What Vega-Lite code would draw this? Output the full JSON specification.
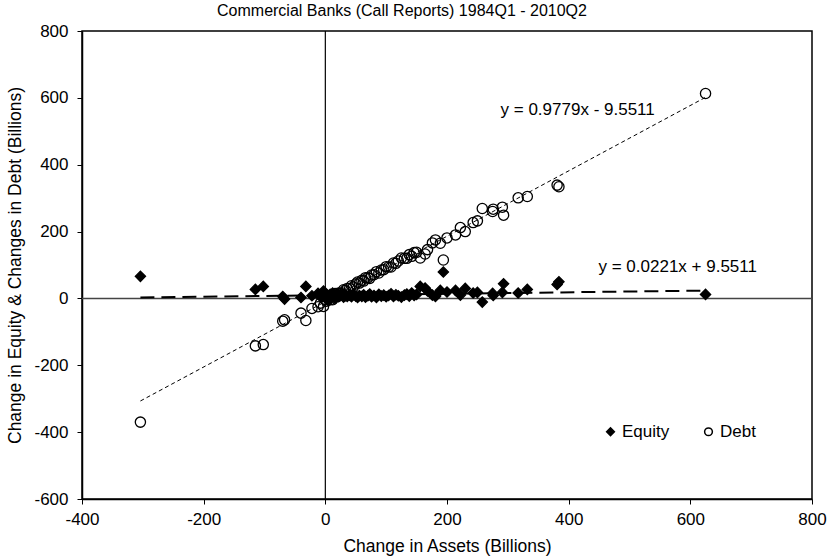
{
  "$schema": "https://vega.github.io/schema/vega-lite/v6.json",
  "width": 730,
  "height": 468,
  "autosize": {"type": "none"},
  "padding": {"left": 82, "top": 31, "right": 20, "bottom": 60},
  "background": "white",
  "title": {"text": "Commercial Banks (Call Reports) 1984Q1 - 2010Q2", "fontSize": 16, "fontWeight": "normal", "font": "Liberation Sans", "color": "black", "anchor": "middle", "dx": -45, "offset": 3},
  "config": {
    "font": "Liberation Sans",
    "view": {"stroke": "black", "strokeWidth": 1.5},
    "axis": {"grid": false, "domainColor": "black", "domainWidth": 1.5, "tickColor": "black", "tickSize": 5, "tickWidth": 1, "labelFontSize": 17, "labelColor": "black", "titleFontSize": 17.5, "titleFontWeight": "normal", "titleColor": "black", "labelFont": "Liberation Sans", "titleFont": "Liberation Sans", "labelFlush": false, "labelOverlap": false},
    "axisX": {"labelPadding": 7, "titlePadding": 10},
    "axisY": {"labelPadding": 9, "titlePadding": 9},
    "legend": {"labelFontSize": 17, "labelFont": "Liberation Sans", "labelColor": "black", "symbolSize": 60, "symbolStrokeColor": "black", "symbolStrokeWidth": 1.5, "orient": "none", "direction": "horizontal", "legendX": 520, "legendY": 392, "columnPadding": 30, "labelOffset": 3}
  },
  "datasets": {
    "banks": [
      {"a": -304, "Equity": 66, "Debt": -370},
      {"a": -115, "Equity": 27, "Debt": -142},
      {"a": -102, "Equity": 36, "Debt": -138},
      {"a": -70, "Equity": 6, "Debt": -68},
      {"a": -67, "Equity": -2, "Debt": -64},
      {"a": -40, "Equity": 3, "Debt": -44},
      {"a": -32, "Equity": 36, "Debt": -66},
      {"a": -22, "Equity": 8, "Debt": -30},
      {"a": -12, "Equity": 15, "Debt": -25},
      {"a": -8, "Equity": 5, "Debt": -14},
      {"a": -3, "Equity": 22, "Debt": -24},
      {"a": 0, "Equity": 2, "Debt": -3},
      {"a": 2, "Equity": 10, "Debt": -8},
      {"a": 4, "Equity": -5, "Debt": 9},
      {"a": 5, "Equity": 6, "Debt": -2},
      {"a": 8, "Equity": 12, "Debt": -4},
      {"a": 10, "Equity": 3, "Debt": 6},
      {"a": 12, "Equity": 16, "Debt": -4},
      {"a": 14, "Equity": 8, "Debt": 5},
      {"a": 16, "Equity": 0, "Debt": 15},
      {"a": 18, "Equity": 10, "Debt": 8},
      {"a": 20, "Equity": 14, "Debt": 6},
      {"a": 22, "Equity": 5, "Debt": 16},
      {"a": 25, "Equity": 9, "Debt": 15},
      {"a": 28, "Equity": 12, "Debt": 16},
      {"a": 30, "Equity": 4, "Debt": 26},
      {"a": 33, "Equity": 8, "Debt": 24},
      {"a": 36, "Equity": 6, "Debt": 30},
      {"a": 40, "Equity": 10, "Debt": 30},
      {"a": 43, "Equity": 5, "Debt": 38},
      {"a": 46, "Equity": 12, "Debt": 34},
      {"a": 50, "Equity": 7, "Debt": 43},
      {"a": 53, "Equity": 3, "Debt": 49},
      {"a": 56, "Equity": 9, "Debt": 46},
      {"a": 60, "Equity": 6, "Debt": 54},
      {"a": 63, "Equity": 11, "Debt": 52},
      {"a": 66, "Equity": 4, "Debt": 62},
      {"a": 70, "Equity": 8, "Debt": 62},
      {"a": 73, "Equity": 13, "Debt": 60},
      {"a": 76, "Equity": 5, "Debt": 70},
      {"a": 80, "Equity": 9, "Debt": 71},
      {"a": 84, "Equity": 3, "Debt": 80},
      {"a": 88, "Equity": 12, "Debt": 76},
      {"a": 92, "Equity": 7, "Debt": 85},
      {"a": 96, "Equity": 10, "Debt": 86},
      {"a": 100, "Equity": 5, "Debt": 95},
      {"a": 104, "Equity": 9, "Debt": 94},
      {"a": 108, "Equity": 14, "Debt": 94},
      {"a": 112, "Equity": 6, "Debt": 106},
      {"a": 116, "Equity": 11, "Debt": 105},
      {"a": 120, "Equity": 8, "Debt": 112},
      {"a": 125, "Equity": 4, "Debt": 121},
      {"a": 130, "Equity": 10, "Debt": 120},
      {"a": 134, "Equity": 13, "Debt": 120},
      {"a": 138, "Equity": 7, "Debt": 131},
      {"a": 142, "Equity": 16, "Debt": 126},
      {"a": 146, "Equity": 9, "Debt": 137},
      {"a": 150, "Equity": 12, "Debt": 138},
      {"a": 156, "Equity": 36, "Debt": 121},
      {"a": 164, "Equity": 31, "Debt": 133},
      {"a": 168, "Equity": 22, "Debt": 146},
      {"a": 176, "Equity": 10, "Debt": 166},
      {"a": 181, "Equity": 6, "Debt": 175},
      {"a": 189, "Equity": 24, "Debt": 165},
      {"a": 194, "Equity": 79, "Debt": 115},
      {"a": 200, "Equity": 19, "Debt": 181},
      {"a": 214, "Equity": 24, "Debt": 190},
      {"a": 222, "Equity": 10, "Debt": 212},
      {"a": 230, "Equity": 30, "Debt": 200},
      {"a": 243, "Equity": 16, "Debt": 227},
      {"a": 250, "Equity": 18, "Debt": 232},
      {"a": 258, "Equity": -11, "Debt": 269},
      {"a": 275, "Equity": 15, "Debt": 260},
      {"a": 276, "Equity": 9, "Debt": 267},
      {"a": 291, "Equity": 18, "Debt": 273},
      {"a": 293, "Equity": 44, "Debt": 249},
      {"a": 317, "Equity": 16, "Debt": 301},
      {"a": 332, "Equity": 27, "Debt": 305},
      {"a": 381, "Equity": 42, "Debt": 339},
      {"a": 384, "Equity": 50, "Debt": 334},
      {"a": 625, "Equity": 12, "Debt": 613}
    ],
    "debtTrend": [{"a": -304, "v": -306.8}, {"a": 625, "v": 601.6}],
    "equityTrend": [{"a": -304, "v": 2.8}, {"a": 625, "v": 23.4}],
    "labels": [
      {"a": 288, "v": 563, "t": "y = 0.9779x - 9.5511"},
      {"a": 449, "v": 94, "t": "y = 0.0221x + 9.5511"}
    ],
    "zero": [{"a": 0, "v": 0}]
  },
  "layer": [
    {
      "data": {"name": "zero"},
      "mark": {"type": "rule", "color": "#444444", "strokeWidth": 1.5},
      "encoding": {
        "y": {"field": "v", "type": "quantitative", "title": "Change in Equity & Changes in Debt (Billions)", "scale": {"domain": [-600, 800], "nice": false}, "axis": {"values": [-600, -400, -200, 0, 200, 400, 600, 800], "labelExpr": "'' + datum.value"}}
      }
    },
    {
      "data": {"name": "zero"},
      "mark": {"type": "rule", "color": "black", "strokeWidth": 1.2},
      "encoding": {
        "x": {"field": "a", "type": "quantitative", "title": "Change in Assets (Billions)", "scale": {"domain": [-400, 800], "nice": false}, "axis": {"values": [-400, -200, 0, 200, 400, 600, 800], "labelExpr": "'' + datum.value"}}
      }
    },
    {
      "data": {"name": "debtTrend"},
      "mark": {"type": "line", "color": "black", "strokeWidth": 1, "strokeDash": [4, 3]},
      "encoding": {
        "x": {"field": "a", "type": "quantitative", "title": "Change in Assets (Billions)", "scale": {"domain": [-400, 800], "nice": false}, "axis": {"values": [-400, -200, 0, 200, 400, 600, 800], "labelExpr": "'' + datum.value"}},
        "y": {"field": "v", "type": "quantitative", "title": "Change in Equity & Changes in Debt (Billions)", "scale": {"domain": [-600, 800], "nice": false}, "axis": {"values": [-600, -400, -200, 0, 200, 400, 600, 800], "labelExpr": "'' + datum.value"}}
      }
    },
    {
      "data": {"name": "equityTrend"},
      "mark": {"type": "line", "color": "black", "strokeWidth": 2, "strokeDash": [14, 7]},
      "encoding": {
        "x": {"field": "a", "type": "quantitative", "title": "Change in Assets (Billions)", "scale": {"domain": [-400, 800], "nice": false}, "axis": {"values": [-400, -200, 0, 200, 400, 600, 800], "labelExpr": "'' + datum.value"}},
        "y": {"field": "v", "type": "quantitative", "title": "Change in Equity & Changes in Debt (Billions)", "scale": {"domain": [-600, 800], "nice": false}, "axis": {"values": [-600, -400, -200, 0, 200, 400, 600, 800], "labelExpr": "'' + datum.value"}}
      }
    },
    {
      "data": {"name": "banks"},
      "transform": [{"fold": ["Equity", "Debt"], "as": ["series", "v"]}],
      "mark": {"type": "point", "strokeWidth": 1.3, "opacity": 1, "size": 105},
      "encoding": {
        "x": {"field": "a", "type": "quantitative", "title": "Change in Assets (Billions)", "scale": {"domain": [-400, 800], "nice": false}, "axis": {"values": [-400, -200, 0, 200, 400, 600, 800], "labelExpr": "'' + datum.value"}},
        "y": {"field": "v", "type": "quantitative", "title": "Change in Equity & Changes in Debt (Billions)", "scale": {"domain": [-600, 800], "nice": false}, "axis": {"values": [-600, -400, -200, 0, 200, 400, 600, 800], "labelExpr": "'' + datum.value"}},
        "shape": {"field": "series", "type": "nominal", "scale": {"domain": ["Equity", "Debt"], "range": ["diamond", "circle"]}, "legend": {"title": null}},
        "fill": {"field": "series", "type": "nominal", "scale": {"domain": ["Equity", "Debt"], "range": ["black", "transparent"]}, "legend": {"title": null}},
        "stroke": {"field": "series", "type": "nominal", "scale": {"domain": ["Equity", "Debt"], "range": ["black", "#000000"]}, "legend": {"title": null}}
      }
    },
    {
      "data": {"name": "labels"},
      "mark": {"type": "text", "align": "left", "baseline": "middle", "fontSize": 17, "font": "Liberation Sans", "color": "black"},
      "encoding": {
        "x": {"field": "a", "type": "quantitative", "title": "Change in Assets (Billions)", "scale": {"domain": [-400, 800], "nice": false}, "axis": {"values": [-400, -200, 0, 200, 400, 600, 800], "labelExpr": "'' + datum.value"}},
        "y": {"field": "v", "type": "quantitative", "title": "Change in Equity & Changes in Debt (Billions)", "scale": {"domain": [-600, 800], "nice": false}, "axis": {"values": [-600, -400, -200, 0, 200, 400, 600, 800], "labelExpr": "'' + datum.value"}},
        "text": {"field": "t"}
      }
    }
  ]
}
